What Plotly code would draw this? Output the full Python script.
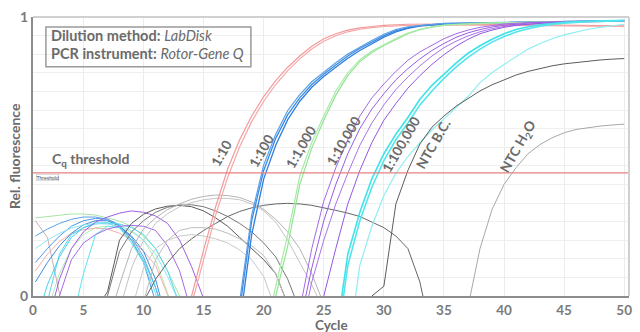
import plotly.graph_objects as go

# ---------------- data (cycle, relative fluorescence) ----------------
threshold = 0.441

# amplification curves
red_a = [(13,-0.2),(14,0.0),(15,0.165),(16,0.32),(17,0.455),(18,0.56),(19,0.645),(20,0.715),(21,0.772),(22,0.82),(23,0.86),(24,0.895),(25,0.922),(26,0.94),(27,0.953),(28,0.961),(29,0.966),(30,0.97),(32,0.974),(35,0.975),(40,0.973),(45,0.97),(50,0.968)]
red_b = [(14,-0.03),(15,0.13),(16,0.29),(17,0.425),(18,0.535),(19,0.625),(20,0.698),(21,0.758),(22,0.808),(23,0.85),(24,0.885),(25,0.913),(26,0.933),(27,0.947),(28,0.956),(29,0.962),(30,0.966),(32,0.97),(35,0.972),(40,0.97),(45,0.968),(50,0.966)]
blue_a = [(18,-0.05),(19,0.27),(20,0.45),(21,0.565),(22,0.65),(23,0.71),(24,0.758),(25,0.795),(26,0.828),(27,0.86),(28,0.887),(29,0.91),(30,0.933),(31,0.951),(32,0.962),(33,0.969),(34,0.973),(35,0.976),(37,0.978),(40,0.98),(45,0.983),(50,0.986)]
blue_b = [(18,-0.1),(19,0.22),(20,0.42),(21,0.54),(22,0.632),(23,0.698),(24,0.748),(25,0.787),(26,0.82),(27,0.852),(28,0.88),(29,0.905),(30,0.928),(31,0.947),(32,0.959),(33,0.967),(34,0.972),(35,0.975),(40,0.98),(45,0.984),(50,0.987)]
blue_c = [(18,-0.02),(19,0.29),(20,0.47),(21,0.58),(22,0.665),(23,0.722),(24,0.768),(25,0.803),(26,0.836),(27,0.867),(28,0.893),(29,0.916),(30,0.938),(31,0.955),(32,0.965),(35,0.977),(40,0.981),(50,0.987)]
green_a = [(20,-0.2),(21,0.0),(22,0.18),(23,0.40),(24,0.53),(25,0.63),(26,0.72),(27,0.79),(28,0.84),(29,0.873),(30,0.898),(31,0.92),(32,0.94),(33,0.955),(34,0.964),(35,0.97),(36,0.974),(38,0.978),(40,0.98),(45,0.983),(50,0.985)]
green_b = [(20,-0.15),(21,0.04),(22,0.22),(23,0.43),(24,0.55),(25,0.645),(26,0.735),(27,0.8),(28,0.847),(29,0.878),(30,0.902),(31,0.923),(32,0.942),(33,0.956),(34,0.965),(35,0.971),(40,0.98),(50,0.985)]
purple_a = [(23,-0.05),(24,0.17),(25,0.34),(26,0.46),(27,0.56),(28,0.645),(29,0.71),(30,0.76),(31,0.805),(32,0.845),(33,0.875),(34,0.9),(35,0.922),(36,0.94),(37,0.953),(38,0.963),(39,0.97),(40,0.975),(42,0.98),(45,0.984),(50,0.987)]
purple_b = [(23,-0.1),(24,0.1),(25,0.27),(26,0.40),(27,0.51),(28,0.60),(29,0.67),(30,0.725),(31,0.775),(32,0.815),(33,0.85),(34,0.88),(35,0.905),(36,0.927),(37,0.943),(38,0.955),(39,0.964),(40,0.97),(42,0.978),(45,0.983),(50,0.986)]
purple_c = [(23,-0.15),(24,0.05),(25,0.2),(26,0.33),(27,0.44),(28,0.54),(29,0.62),(30,0.685),(31,0.74),(32,0.785),(33,0.825),(34,0.86),(35,0.89),(36,0.913),(37,0.932),(38,0.947),(39,0.958),(40,0.966),(42,0.975),(45,0.982),(50,0.986)]
purple_d = [(24,-0.1),(25,0.0),(26,0.17),(27,0.33),(28,0.45),(29,0.55),(30,0.63),(31,0.69),(32,0.745),(33,0.79),(34,0.83),(35,0.865),(36,0.895),(37,0.92),(38,0.94),(39,0.953),(40,0.963),(41,0.97),(43,0.977),(45,0.981),(50,0.985)]
cyan_a = [(26,-0.15),(27,0.15),(28,0.30),(29,0.42),(30,0.51),(31,0.58),(32,0.64),(33,0.705),(34,0.755),(35,0.795),(36,0.835),(37,0.87),(38,0.897),(39,0.92),(40,0.94),(41,0.955),(42,0.965),(43,0.972),(44,0.977),(45,0.981),(47,0.985),(50,0.988)]
cyan_b = [(26,-0.2),(27,0.11),(28,0.27),(29,0.39),(30,0.485),(31,0.56),(32,0.62),(33,0.685),(34,0.735),(35,0.78),(36,0.82),(37,0.855),(38,0.885),(39,0.91),(40,0.93),(41,0.946),(42,0.958),(43,0.967),(44,0.973),(45,0.978),(47,0.983),(50,0.987)]
cyan_light = [(27,-0.2),(28,0.11),(29,0.25),(30,0.36),(31,0.44),(32,0.5),(33,0.55),(34,0.595),(35,0.635),(36,0.675),(37,0.715),(38,0.765),(39,0.8),(40,0.83),(41,0.857),(42,0.885),(43,0.905),(44,0.922),(45,0.936),(46,0.947),(47,0.956),(48,0.963),(49,0.969),(50,0.974)]
ntc_bc = [(28,-0.08),(29,0.0),(30,0.035),(31,0.33),(32,0.45),(33,0.545),(34,0.605),(35,0.645),(36,0.68),(37,0.708),(38,0.735),(39,0.757),(40,0.775),(41,0.792),(42,0.805),(43,0.816),(44,0.825),(45,0.832),(46,0.837),(47,0.842),(48,0.846),(49,0.849),(50,0.851)]
ntc_h2o = [(36,-0.3),(37,-0.04),(38,0.17),(39,0.31),(40,0.40),(41,0.46),(42,0.51),(43,0.543),(44,0.567),(45,0.585),(46,0.597),(47,0.604),(48,0.609),(49,0.613),(50,0.616)]

# background (noise) arcs
n_green_a = [(1,0.28),(2,0.285),(3,0.29),(4,0.294),(5,0.294),(6,0.29),(7,0.28),(8,0.268),(9,0.25),(10,0.215),(11,0.17),(12,0.09),(13,0.0),(14,-0.1)]
n_green_b = [(2,-0.05),(3,0.08),(4,0.17),(5,0.22),(6,0.245),(7,0.25),(8,0.245),(9,0.23),(10,0.2),(11,0.13),(12,0.01),(13,-0.12)]
n_blue_a = [(1,0.12),(2,0.17),(3,0.215),(4,0.25),(5,0.27),(6,0.278),(7,0.275),(8,0.255),(9,0.2),(10,0.12),(11,-0.02),(12,-0.2)]
n_blue_b = [(1,0.215),(2,0.24),(3,0.26),(4,0.275),(5,0.283),(6,0.283),(7,0.275),(8,0.25),(9,0.21),(10,0.14),(11,0.03),(12,-0.1)]
n_blue_c = [(1,0.05),(2,0.12),(3,0.18),(4,0.225),(5,0.255),(6,0.27),(7,0.27),(8,0.25),(9,0.215),(10,0.16),(11,0.06),(12,-0.1)]
n_cyan_a = [(2,-0.02),(3,0.15),(4,0.22),(5,0.245),(6,0.258),(7,0.262),(8,0.258),(9,0.245),(10,0.22),(11,0.17),(12,0.09),(13,-0.03)]
n_cyan_b = [(4,-0.1),(5,0.08),(6,0.22),(7,0.25),(8,0.245),(9,0.19),(10,0.12),(11,0.01),(12,-0.15)]
n_cyan_c = [(1,-0.1),(2,0.04),(3,0.14),(4,0.21),(5,0.245),(6,0.262),(7,0.262),(8,0.245),(9,0.2),(10,0.13),(11,0.03),(12,-0.1)]
n_cyan_d = [(1,0.17),(2,0.2),(3,0.225),(4,0.243),(5,0.255),(6,0.26),(7,0.258),(8,0.25),(9,0.235),(10,0.2),(11,0.15),(12,0.07),(13,-0.03)]
n_purple_a = [(2,-0.1),(3,0.06),(4,0.17),(5,0.23),(6,0.265),(7,0.283),(8,0.297),(9,0.305),(10,0.3),(11,0.287),(12,0.26),(13,0.2),(14,0.105),(15,-0.01)]
n_purple_b = [(2,-0.3),(3,0.0),(4,0.13),(5,0.19),(6,0.22),(7,0.24),(8,0.25),(9,0.253),(10,0.25),(11,0.235),(12,0.18),(13,0.09),(14,-0.06)]
n_red_a = [(1,0.09),(2,0.15),(3,0.195),(4,0.225),(5,0.238),(6,0.243),(7,0.24),(8,0.225),(9,0.2),(10,0.16),(11,0.11),(12,0.01),(13,-0.1)]
n_red_b = [(1,0.27),(2,0.21),(3,0.01),(4,-0.5)]
n_black_a = [(6,-0.05),(7,0.015),(8,0.2),(9,0.26),(10,0.293),(11,0.312),(12,0.322),(13,0.325),(14,0.32),(15,0.305),(16,0.28),(17,0.25),(18,0.21),(19,0.17),(20,0.13),(21,0.08),(22,-0.03)]
n_black_b = [(6,-0.1),(7,0.0),(8,0.16),(9,0.23),(10,0.27),(11,0.3),(12,0.318),(13,0.326),(14,0.327),(15,0.32),(16,0.305),(17,0.285),(18,0.26),(19,0.23),(20,0.19),(21,0.14),(22,0.06),(23,-0.05)]
n_black_c = [(10,-0.02),(11,0.06),(12,0.12),(13,0.17),(14,0.205),(15,0.235),(16,0.26),(17,0.285),(18,0.303),(19,0.316),(20,0.325),(21,0.33),(22,0.332),(23,0.33),(24,0.325),(25,0.317),(26,0.307),(27,0.297),(28,0.285),(29,0.265),(30,0.245),(31,0.215),(32,0.17),(33,0.05),(34,-0.15)]
n_gray_a = [(7,-0.1),(8,0.04),(9,0.17),(10,0.24),(11,0.28),(12,0.31),(13,0.33),(14,0.347),(15,0.357),(16,0.362),(17,0.36),(18,0.353),(19,0.337),(20,0.31),(21,0.275),(22,0.23),(23,0.17),(24,0.08),(25,-0.03)]
n_gray_b = [(8,-0.05),(9,0.1),(10,0.2),(11,0.26),(12,0.295),(13,0.32),(14,0.335),(15,0.345),(16,0.35),(17,0.35),(18,0.345),(19,0.33),(20,0.305),(21,0.265),(22,0.2),(23,0.12),(24,0.04),(25,-0.05)]
n_gray_c = [(10,-0.02),(11,0.13),(12,0.2),(13,0.235),(14,0.245),(15,0.245),(16,0.24),(17,0.225),(18,0.205),(19,0.18),(20,0.145),(21,0.08),(22,-0.03)]
n_gray_d = [(9,-0.05),(10,0.1),(11,0.17),(12,0.2),(13,0.215),(14,0.22),(15,0.215),(16,0.205),(17,0.19),(18,0.165),(19,0.13),(20,0.07),(21,-0.05)]

x_tick_vals = [0.8, 5, 10, 15, 20, 25, 30, 35, 40, 45, 50]
x_tick_text = ["0", "5", "10", "15", "20", "25", "30", "35", "40", "45", "50"]

curve_labels = [
    ("1:10", 16.5, 0.512),
    ("1:100", 19.8, 0.52),
    ("1:1,000", 23.1, 0.534),
    ("1:10,000", 26.65, 0.555),
    ("1:100,000", 31.45, 0.545),
    ("NTC B.C.", 34.1, 0.545),
    ("NTC H<sub>2</sub>O", 41.2, 0.534),
]

# ---------------- figure ----------------
fig = go.Figure()

def add(series, color, width=1.0, opacity=1.0):
    fig.add_trace(go.Scatter(
        x=[p[0] for p in series], y=[p[1] for p in series],
        mode="lines", line=dict(color=color, width=width),
        opacity=opacity, hoverinfo="skip", showlegend=False))

noise = [
    (n_green_a, "#a6e6a6"), (n_green_b, "#b5ecb5"),
    (n_red_a, "#f2b0b0"), (n_red_b, "#c8b0b0"),
    (n_blue_a, "#4d96e6"), (n_blue_b, "#5aa0ea"), (n_blue_c, "#3f8ce0"),
    (n_cyan_a, "#55d8ee"), (n_cyan_b, "#5fe3ef"), (n_cyan_c, "#48d0ea"), (n_cyan_d, "#8fe6f2"),
    (n_purple_a, "#9d5fe3"), (n_purple_b, "#a56ae6"),
    (n_black_a, "#5a5a5a"), (n_black_b, "#777777"), (n_black_c, "#666666"),
    (n_gray_a, "#b4b4b4"), (n_gray_b, "#c4c4c4"), (n_gray_c, "#bdbdbd"), (n_gray_d, "#c9c9c9"),
]
for s, c in noise:
    add(s, c, 1.0)

amp = [
    (red_a, "#f29a9a", 1.2), (red_b, "#f4a8a8", 1.2),
    (blue_a, "#3a8ae3", 1.3), (blue_b, "#2f7fdc", 1.3), (blue_c, "#5b9fe8", 1.2),
    (green_a, "#94e494", 1.2), (green_b, "#a8eaa8", 1.2),
    (purple_a, "#a46ae8", 1.0), (purple_b, "#9a5ce4", 1.0), (purple_c, "#a873ea", 1.0), (purple_d, "#9557e2", 1.0),
    (cyan_a, "#3fe2e8", 1.6), (cyan_b, "#52e6ec", 1.6), (cyan_light, "#8eeef2", 1.2),
    (ntc_bc, "#5c5c5c", 1.0), (ntc_h2o, "#a8a8a8", 1.0),
]
for s, c, w in amp:
    add(s, c, w)

# threshold line
fig.add_trace(go.Scatter(x=[0.8, 50.4], y=[threshold, threshold], mode="lines",
                         line=dict(color="#e98080", width=1.3), hoverinfo="skip", showlegend=False))

font_family = "Lato, 'Open Sans', sans-serif"
grey = "#6b6b6b"

annotations = []
for txt, cx, cy in curve_labels:
    annotations.append(dict(x=cx, y=cy, xref="x", yref="y", text="<b>%s</b>" % txt,
                            showarrow=False, textangle=-60,
                            font=dict(family=font_family, size=13.5, color=grey)))

annotations += [
    dict(x=2.2, y=0.491, xref="x", yref="y", xanchor="left", yanchor="middle",
         text="<b>C<sub>q</sub> threshold</b>", showarrow=False,
         font=dict(family=font_family, size=14, color=grey)),
    dict(x=1.05, y=threshold - 0.004, xref="x", yref="y", xanchor="left", yanchor="top",
         text="Threshold", showarrow=False, bordercolor="#bbbbbb", borderwidth=0.5, borderpad=0,
         bgcolor="white", font=dict(family="Arial", size=5, color="#444")),
    dict(x=0.027, y=0.935, xref="paper", yref="paper", xanchor="left", yanchor="middle",
         text="<b>Dilution method:</b> <i>LabDisk</i>", showarrow=False, align="left",
         font=dict(family=font_family, size=14.5, color=grey)),
    dict(x=0.027, y=0.869, xref="paper", yref="paper", xanchor="left", yanchor="middle",
         text="<b>PCR instrument:</b> <i>Rotor-Gene Q</i>", showarrow=False, align="left",
         font=dict(family=font_family, size=14.5, color=grey)),
    dict(x=-0.03, y=0.502, xref="paper", yref="paper", xanchor="center", yanchor="middle",
         text="<b>Rel. fluorescence</b>", textangle=-90, showarrow=False,
         font=dict(family=font_family, size=14, color=grey)),
    dict(x=0.5, y=-0.103, xref="paper", yref="paper", xanchor="center", yanchor="middle",
         text="<b>Cycle</b>", showarrow=False,
         font=dict(family=font_family, size=13.5, color=grey)),
]

shapes = [
    dict(type="rect", xref="paper", yref="paper", x0=0.0217, x1=0.3656, y0=0.822, y1=0.964,
         line=dict(color="#9a9a9a", width=1.5), fillcolor="rgba(255,255,255,0)"),
    dict(type="line", xref="paper", yref="paper", x0=0, x1=1, y0=1, y1=1,
         line=dict(color="#d0d0d0", width=2)),
    dict(type="line", xref="paper", yref="paper", x0=1, x1=1, y0=0, y1=1,
         line=dict(color="#d0d0d0", width=2)),
]

fig.update_layout(
    width=640, height=332,
    margin=dict(l=33, r=8, t=15, b=36),
    paper_bgcolor="white", plot_bgcolor="white",
    showlegend=False,
    annotations=annotations,
    shapes=shapes,
    xaxis=dict(range=[0.8, 50.4], tickvals=x_tick_vals, ticktext=x_tick_text,
               showgrid=True, gridcolor="#ececec", gridwidth=1,
               showline=True, linecolor="#8c8c8c", linewidth=2, zeroline=False,
               ticks="", ticklabelstandoff=1,
               tickfont=dict(family=font_family, size=13.5, color="#7a7a7a", weight="bold")),
    yaxis=dict(range=[0, 1], tickvals=[0, 1], ticktext=["0", "1"],
               showgrid=False, showline=True, linecolor="#8c8c8c", linewidth=2, zeroline=False,
               ticks="", tickfont=dict(family=font_family, size=14, color="#7a7a7a", weight="bold"),
               minor=dict(dtick=1/15, tick0=0, showgrid=True, gridcolor="#efefef", gridwidth=1)),
)

fig.write_html("out.html", config={"displayModeBar": False},
               post_script="document.body.style.margin='0';document.body.style.overflow='hidden';")
